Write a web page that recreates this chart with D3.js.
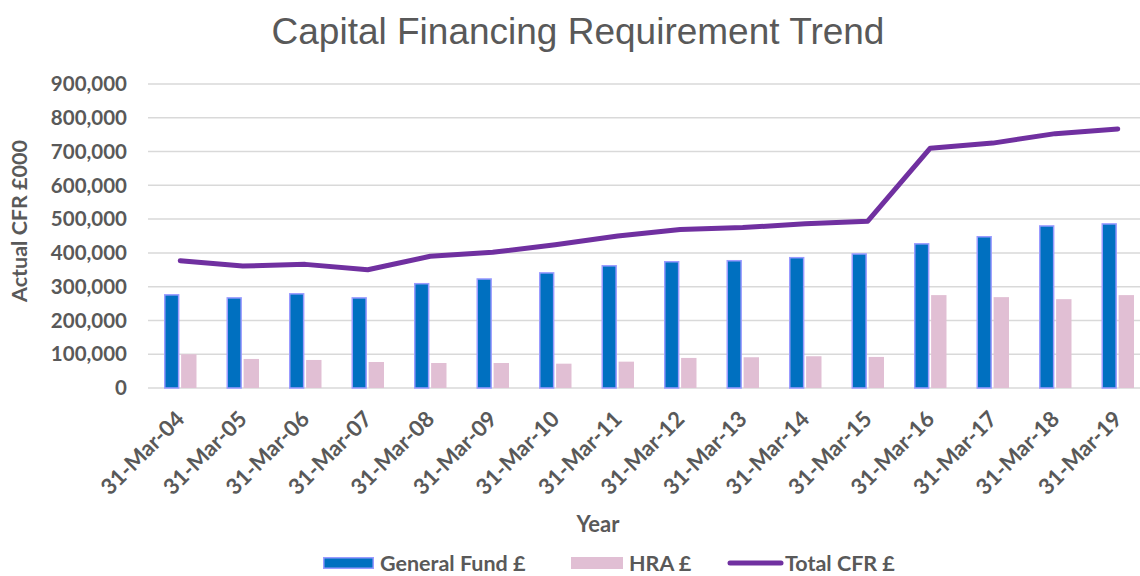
<!DOCTYPE html>
<html><head><meta charset="utf-8">
<script src="https://cdn.jsdelivr.net/npm/d3@7"></script>
<style>
html,body{margin:0;padding:0;background:#fff;}
svg{display:block;}
</style></head>
<body><svg id="c" width="1140" height="576"></svg>
<script>
const categories = ["31-Mar-04","31-Mar-05","31-Mar-06","31-Mar-07","31-Mar-08","31-Mar-09","31-Mar-10","31-Mar-11","31-Mar-12","31-Mar-13","31-Mar-14","31-Mar-15","31-Mar-16","31-Mar-17","31-Mar-18","31-Mar-19"];
const generalFund = [278000,269000,281000,269000,311000,325000,343000,364000,376000,379000,388000,399000,429000,450000,482000,488000];
const hra = [100000,86000,83000,77000,74000,74000,72000,78000,89000,91000,94000,92000,275000,269000,263000,275000];
const totalCFR = [377000,361000,366000,350000,390000,402000,424000,450000,469000,475000,486000,494000,710000,725000,753000,767000];
const yTicks = [0,100000,200000,300000,400000,500000,600000,700000,800000,900000];
const seriesNames = ["General Fund £","HRA £","Total CFR £"];

const svg = d3.select("#c");
const textCol = "#595959";
const font = "Lato, 'Open Sans', sans-serif";

const x0 = d3.scaleBand().domain(categories).range([149,1149]).paddingInner(0.48).paddingOuter(0.24);
const x1 = d3.scaleBand().domain([0,1]).range([0,x0.bandwidth()]).paddingInner(0.1);
const y = d3.scaleLinear().domain([0,900000]).range([388,84]);

// gridlines
svg.append("g").selectAll("line").data(yTicks).join("line")
  .attr("x1",148).attr("x2",1140)
  .attr("y1",d=>y(d)).attr("y2",d=>y(d))
  .attr("stroke","#d9d9d9").attr("stroke-width",1.5);

// y axis labels
const fmt = d3.format(",");
svg.append("g").selectAll("text").data(yTicks).join("text")
  .attr("x",127).attr("y",d=>y(d)).attr("dy","0.35em")
  .attr("text-anchor","end")
  .attr("font-family",font).attr("font-weight",700).attr("font-size",20.5)
  .attr("fill",textCol).text(d=>fmt(d));

// bars
const g = svg.append("g");
g.selectAll("rect.gf").data(generalFund).join("rect").attr("class","gf")
  .attr("x",(d,i)=>x0(categories[i])+x1(0)+0.75)
  .attr("width",x1.bandwidth()-1.5)
  .attr("y",d=>y(d)+0.75)
  .attr("height",d=>y(0)-y(d)-0.75)
  .attr("fill","#0070c0").attr("stroke","#9b9bff").attr("stroke-width",1.5);
g.selectAll("rect.hra").data(hra).join("rect").attr("class","hra")
  .attr("x",(d,i)=>x0(categories[i])+x1(1))
  .attr("width",x1.bandwidth())
  .attr("y",d=>y(d))
  .attr("height",d=>y(0)-y(d))
  .attr("fill","#e1bfd4");

// line
const line = d3.line().x((d,i)=>x0(categories[i])+x0.bandwidth()/2).y(d=>y(d));
svg.append("path").datum(totalCFR).attr("d",line)
  .attr("fill","none").attr("stroke","#7030a0").attr("stroke-width",5)
  .attr("stroke-linejoin","round").attr("stroke-linecap","round");

// x labels
svg.append("g").selectAll("text").data(categories).join("text")
  .attr("transform",d=>`translate(${x0(d)+x0.bandwidth()/2},${415}) rotate(-45)`)
  .attr("text-anchor","end").attr("dy","0.35em")
  .attr("font-family",font).attr("font-weight",700).attr("font-size",22)
  .attr("fill",textCol).text(d=>d);

// title
svg.append("text").attr("x",578).attr("y",44).attr("text-anchor","middle")
  .attr("font-family","'Liberation Sans', Arial, sans-serif").attr("font-size",37)
  .attr("fill",textCol).text("Capital Financing Requirement Trend");

// axis titles
svg.append("text").attr("transform","translate(27,221) rotate(-90)")
  .attr("text-anchor","middle")
  .attr("font-family",font).attr("font-weight",700).attr("font-size",21.5)
  .attr("fill",textCol).text("Actual CFR £000");
svg.append("text").attr("x",598).attr("y",532).attr("text-anchor","middle")
  .attr("font-family",font).attr("font-weight",700).attr("font-size",22)
  .attr("fill",textCol).text("Year");

// legend
const ly = 563;
const leg = svg.append("g");
leg.append("rect").attr("x",323.75).attr("y",ly-5.25).attr("width",49.5).attr("height",10.5)
  .attr("fill","#0070c0").attr("stroke","#9b9bff").attr("stroke-width",1.5);
leg.append("rect").attr("x",571).attr("y",ly-6).attr("width",52).attr("height",12).attr("fill","#e1bfd4");
leg.append("line").attr("x1",730).attr("x2",781).attr("y1",ly).attr("y2",ly)
  .attr("stroke","#7030a0").attr("stroke-width",5).attr("stroke-linecap","round");
const lt = [380,629,785];
leg.selectAll("text").data(seriesNames).join("text")
  .attr("x",(d,i)=>lt[i]).attr("y",ly).attr("dy","0.36em")
  .attr("font-family",font).attr("font-weight",700).attr("font-size",21.5)
  .attr("fill",textCol).text(d=>d);
</script></body></html>
